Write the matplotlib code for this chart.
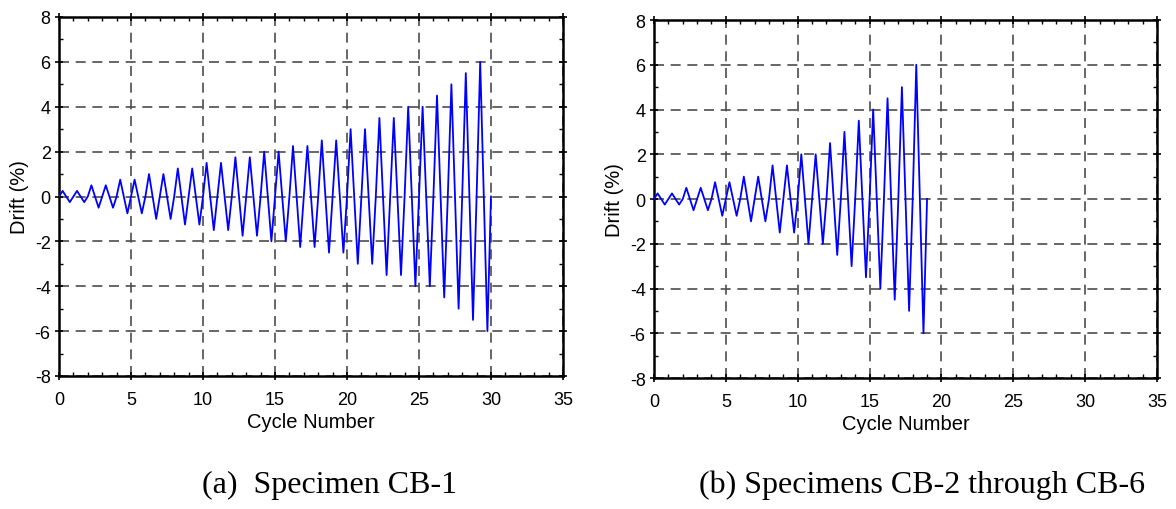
import matplotlib
matplotlib.use('Agg')
from matplotlib import pyplot
from matplotlib.ticker import MultipleLocator

# drift amplitude (%) of each loading cycle
amp_cb1 = [0.25, 0.25, 0.5, 0.5, 0.75, 0.75, 1.0, 1.0, 1.25, 1.25,
           1.5, 1.5, 1.75, 1.75, 2.0, 2.0, 2.25, 2.25, 2.5, 2.5,
           3.0, 3.0, 3.5, 3.5, 4.0, 4.0, 4.5, 5.0, 5.5, 6.0]
amp_cb2 = [0.25, 0.25, 0.5, 0.5, 0.75, 0.75, 1.0, 1.0, 1.5, 1.5,
           2.0, 2.0, 2.5, 3.0, 3.5, 4.0, 4.5, 5.0, 6.0]

x_ticks = [0, 5, 10, 15, 20, 25, 30, 35]
y_ticks = [-8, -6, -4, -2, 0, 2, 4, 6, 8]
captions = ['(a)  Specimen CB-1', '(b) Specimens CB-2 through CB-6']

pyplot.rcParams['font.family'] = ['Liberation Sans', 'DejaVu Sans']
pyplot.rcParams['axes.unicode_minus'] = False


def history(amps):
    # each cycle: 0 -> +A -> -A -> 0
    xs, ys = [0.0], [0.0]
    for i, a in enumerate(amps):
        xs += [i + 0.25, i + 0.75, i + 1.0]
        ys += [a, -a, 0.0]
    return xs, ys


fig = pyplot.figure(figsize=(11.76, 5.10), dpi=100)
ax1 = fig.add_axes([59 / 1176, 1 - 377 / 510, 504 / 1176, 359 / 510])
ax2 = fig.add_axes([654 / 1176, 1 - 379 / 510, 503 / 1176, 358 / 510])

for ax, amps in ((ax1, amp_cb1), (ax2, amp_cb2)):
    xs, ys = history(amps)
    ax.plot(xs, ys, color='#0000ff', linewidth=1.3, zorder=3)
    ax.set_xlim(0, 35)
    ax.set_ylim(-8, 8)
    ax.set_xticks(x_ticks)
    ax.set_yticks(y_ticks)
    ax.xaxis.set_minor_locator(MultipleLocator(1))
    ax.yaxis.set_minor_locator(MultipleLocator(1))
    ax.tick_params(which='major', direction='inout', length=6, width=1.2,
                   top=True, right=True, labelsize=13, color='black')
    ax.tick_params(axis='x', which='major', pad=8)
    ax.tick_params(axis='y', which='major', pad=3)
    ax.tick_params(which='minor', direction='in', length=3, width=1,
                   top=True, right=True)
    ax.grid(True, which='major', linestyle=(0, (6, 4)), color='0.3', linewidth=1.2)
    for s in ax.spines.values():
        s.set_linewidth(1.8)
    ax.set_xlabel('Cycle Number', fontsize=14.5, labelpad=3)
    ax.set_ylabel('Drift (%)', fontsize=14.5, labelpad=4)

fig.text(330 / 1176, 1 - 493 / 510, captions[0], family='Liberation Serif',
         fontsize=23, ha='center', va='baseline')
fig.text(922 / 1176, 1 - 493 / 510, captions[1], family='Liberation Serif',
         fontsize=23, ha='center', va='baseline')

pyplot.savefig('out.png', dpi=100, facecolor='white')
